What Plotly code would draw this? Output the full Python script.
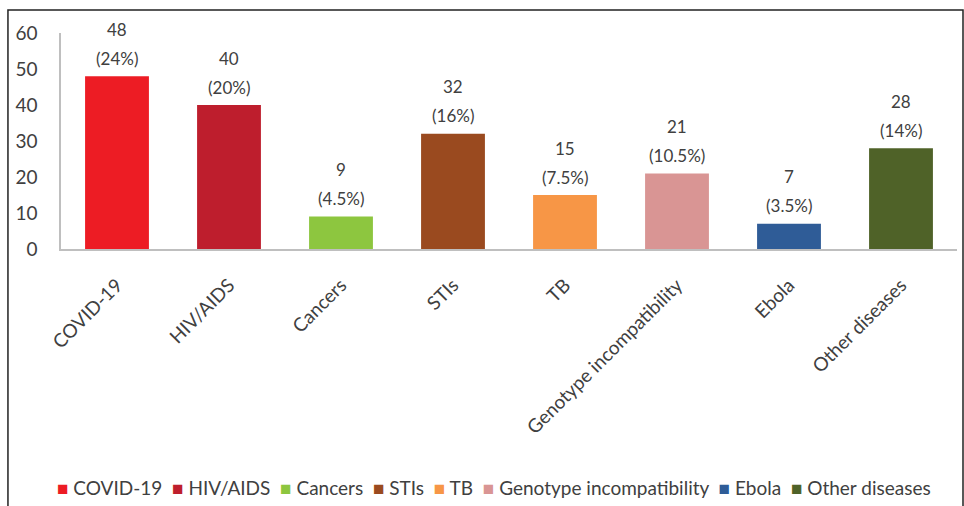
import plotly.graph_objects as go

categories = ["COVID-19", "HIV/AIDS", "Cancers", "STIs", "TB",
              "Genotype incompatibility", "Ebola", "Other diseases"]
counts = [48, 40, 9, 32, 15, 21, 7, 28]
percents = ["24%", "20%", "4.5%", "16%", "7.5%", "10.5%", "3.5%", "14%"]
colors = ["#ED1C24", "#BE1E2D", "#8DC63F", "#9A4A1F", "#F79646",
          "#D99594", "#2F5C97", "#4F6228"]
y_ticks = [0, 10, 20, 30, 40, 50, 60]

FONT = "Lato, 'Open Sans', sans-serif"
TXT = "#404040"

fig = go.Figure()
for c, v, col in zip(categories, counts, colors):
    fig.add_trace(go.Bar(x=[c], y=[v], name=c, marker_color=col,
                         marker_line_width=0, width=0.57))

annotations = []
for c, v, p in zip(categories, counts, percents):
    annotations.append(dict(x=c, y=v, xref="x", yref="y", text=str(v),
                            showarrow=False, yanchor="middle", yshift=47,
                            font=dict(family=FONT, size=17, color=TXT)))
    annotations.append(dict(x=c, y=v, xref="x", yref="y", text=f"({p})",
                            showarrow=False, yanchor="middle", yshift=18,
                            font=dict(family=FONT, size=17, color=TXT)))

# legend line (series names with coloured square markers)
legend_parts = [
    f"<span style='color:{col}'>■</span> {c}"
    for c, col in zip(categories, colors)
]
legend_text = "&nbsp;&nbsp;".join(legend_parts)
annotations.append(dict(x=0.483, y=-1.102, xref="paper", yref="paper",
                        text=legend_text, showarrow=False,
                        xanchor="center", yanchor="middle",
                        font=dict(family=FONT, size=19, color=TXT)))

fig.update_layout(
    width=964, height=506,
    margin=dict(l=61, r=7, t=33, b=257, autoexpand=False),
    paper_bgcolor="white", plot_bgcolor="white",
    barmode="overlay",
    showlegend=False,
    annotations=annotations,
    font=dict(family=FONT, color=TXT),
    shapes=[dict(type="rect", xref="paper", yref="paper",
                 x0=-0.0592, x1=1.0067, y0=-1.25, y1=1.1065,
                 line=dict(color="#222222", width=1.5))],
)
fig.update_xaxes(type="category", categoryorder="array", categoryarray=categories,
                 showline=True, linecolor="#BFBFBF", linewidth=1.5,
                 showgrid=False, tickangle=-45, ticks="outside", ticklen=16,
                 tickcolor="rgba(0,0,0,0)", automargin=False,
                 tickfont=dict(family=FONT, size=19, color=TXT))
fig.update_yaxes(range=[0, 60], tickvals=y_ticks, showline=True,
                 linecolor="#BFBFBF", linewidth=1.5, showgrid=False,
                 zeroline=False, ticks="", ticklabelstandoff=18,
                 automargin=False,
                 tickfont=dict(family=FONT, size=19, color=TXT))

fig.write_html("out.html")
